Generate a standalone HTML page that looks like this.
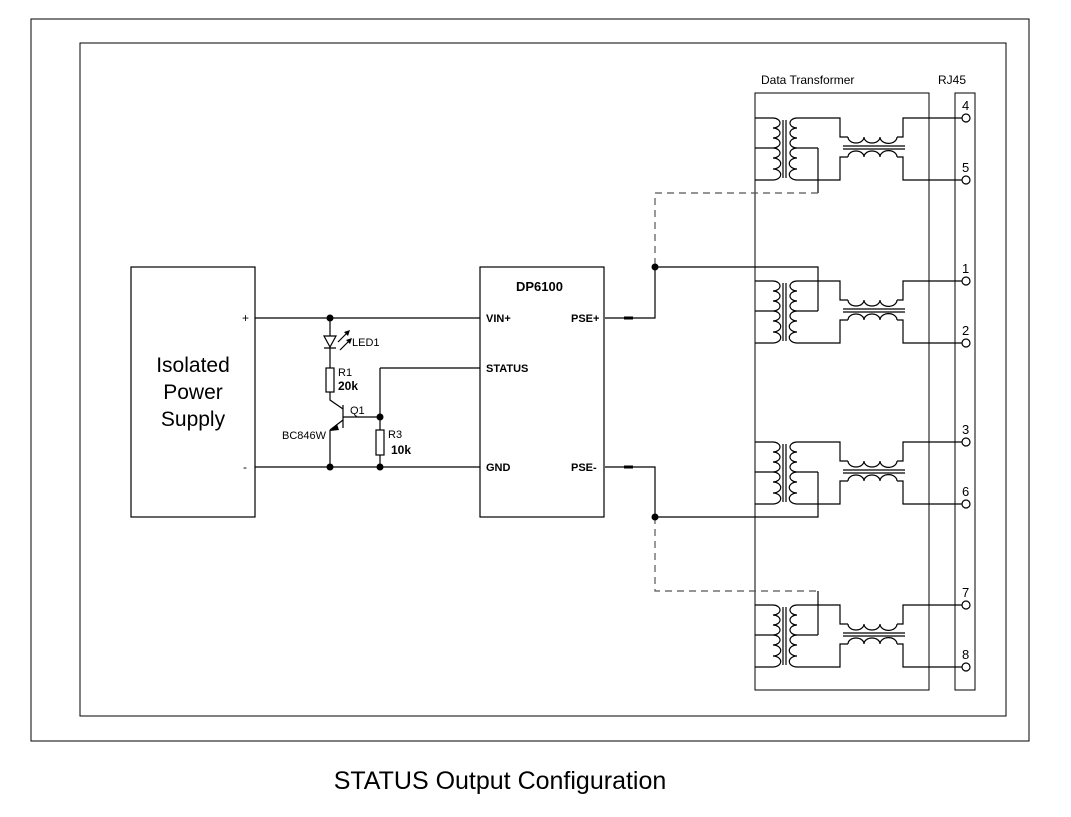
<!DOCTYPE html>
<html><head><style>
body{margin:0;background:#fff;width:1071px;height:812px;overflow:hidden}
text{font-family:"Liberation Sans",sans-serif;fill:#000}
</style></head><body>
<svg width="1071" height="812" viewBox="0 0 1071 812" xmlns="http://www.w3.org/2000/svg">
<defs>
<g id="blk" fill="none" stroke="#000" stroke-width="1.2">
  <path d="M755,118 H773 M755,148 H773 M755,180 H773"/>
  <path d="M773,118 a7,5 0 0 1 0,10 a7,5 0 0 1 0,10 a7,5 0 0 1 0,10 a7,5 0 0 1 0,10 a7,5 0 0 1 0,11 a7,5 0 0 1 0,11"/>
  <path d="M783,120 V178 M786,120 V178"/>
  <path d="M797,118 a7,5 0 0 0 0,10 a7,5 0 0 0 0,10 a7,5 0 0 0 0,10 a7,5 0 0 0 0,10 a7,5 0 0 0 0,11 a7,5 0 0 0 0,11"/>
  <path d="M797,118 H840 V137 H848 M897,137 H903 V118 H962"/>
  <path d="M848,137 a8,6 0 0 0 16,0 a8,6 0 0 0 16,0 a8,6 0 0 0 17,0"/>
  <path d="M797,180 H840 V157 H848 M897,157 H903 V180 H962"/>
  <path d="M848,157 a8,6 0 0 1 16,0 a8,6 0 0 1 16,0 a8,6 0 0 1 17,0"/>
  <path d="M843,146 H905 M843,149 H905"/>
  <path d="M797,148 H818"/>
  <circle cx="966" cy="118" r="4" fill="#fff"/>
  <circle cx="966" cy="180" r="4" fill="#fff"/>
</g>
</defs>
<rect x="31" y="19" width="998" height="722" fill="none" stroke="#000" stroke-width="1"/>
<rect x="80" y="43" width="926" height="673" fill="none" stroke="#000" stroke-width="1"/>
<rect x="755" y="93" width="174" height="597" fill="none" stroke="#000"/>
<rect x="955" y="93" width="20" height="597" fill="none" stroke="#000"/>
<text x="761" y="84" font-size="12">Data Transformer</text>
<text x="938" y="84" font-size="12">RJ45</text>
<use href="#blk"/>
<use href="#blk" y="163"/>
<use href="#blk" y="324"/>
<use href="#blk" y="487"/>
<g font-size="13">
<text x="962" y="110">4</text><text x="962" y="172">5</text>
<text x="962" y="273">1</text><text x="962" y="335">2</text>
<text x="962" y="434">3</text><text x="962" y="496">6</text>
<text x="962" y="597">7</text><text x="962" y="659">8</text>
</g>
<g fill="none" stroke="#000" stroke-width="1.2">
<path d="M818,148 V193"/>
<path d="M818,193 H655 V267" stroke-dasharray="7,5" stroke="#555"/>
<path d="M655,267 H818 V311"/>
<path d="M605,318 H655 V267"/>
<path d="M605,467 H655 V517 H818 V472"/>
<path d="M655,517 V591 H818" stroke-dasharray="7,5" stroke="#555"/>
<path d="M818,591 V635"/>
<path d="M624,318 H633 M624,467 H633" stroke-width="3"/>
<rect x="131" y="267" width="124" height="250"/>
<rect x="480" y="267" width="124" height="250"/>
<path d="M255,318 H480 M255,467 H480"/>
<path d="M330,318 V336 M330,348 V368 M330,392 V400 L343,409 M343,405 V428 M343,417 H380 M330,430 V467"/>
<path d="M324,336 H336 L330,347 Z M324,348 H336"/>
<rect x="326" y="368" width="8" height="24"/>
<path d="M343,420 L330,430"/>
<path d="M380,368 H480 M380,368 V430 M380,455 V467"/>
<rect x="376" y="430" width="8" height="25"/>
<path d="M338,342 L348,332 M340,350 L350,340"/>
</g>
<path d="M350,330 L344,332 L348,336 Z M352,338 L346,340 L350,344 Z M330,431 L337,424 L339,430 Z" fill="#000"/>
<g fill="#000">
<circle cx="330" cy="318" r="3.5"/><circle cx="330" cy="467" r="3.5"/>
<circle cx="380" cy="467" r="3.5"/><circle cx="380" cy="417" r="3.5"/>
<circle cx="655" cy="267" r="3.5"/><circle cx="655" cy="517" r="3.5"/>
</g>
<text x="193" y="372" font-size="21" text-anchor="middle">Isolated</text>
<text x="193" y="399" font-size="21" text-anchor="middle">Power</text>
<text x="193" y="426" font-size="21" text-anchor="middle">Supply</text>
<text x="242" y="322" font-size="12">+</text>
<text x="243" y="471" font-size="12">-</text>
<text x="516" y="291" font-size="13" font-weight="bold">DP6100</text>
<g font-size="11" font-weight="bold">
<text x="486" y="322">VIN+</text><text x="571" y="322">PSE+</text>
<text x="486" y="372">STATUS</text>
<text x="486" y="471">GND</text><text x="571" y="471">PSE-</text>
</g>
<text x="352" y="346" font-size="11">LED1</text>
<text x="338" y="376" font-size="11">R1</text>
<text x="338" y="390" font-size="12" font-weight="bold">20k</text>
<text x="350" y="414" font-size="11">Q1</text>
<text x="282" y="439" font-size="11">BC846W</text>
<text x="388" y="438" font-size="11">R3</text>
<text x="391" y="454" font-size="12" font-weight="bold">10k</text>
<text x="500" y="789" font-size="25" text-anchor="middle">STATUS Output Configuration</text>
</svg>
</body></html>
